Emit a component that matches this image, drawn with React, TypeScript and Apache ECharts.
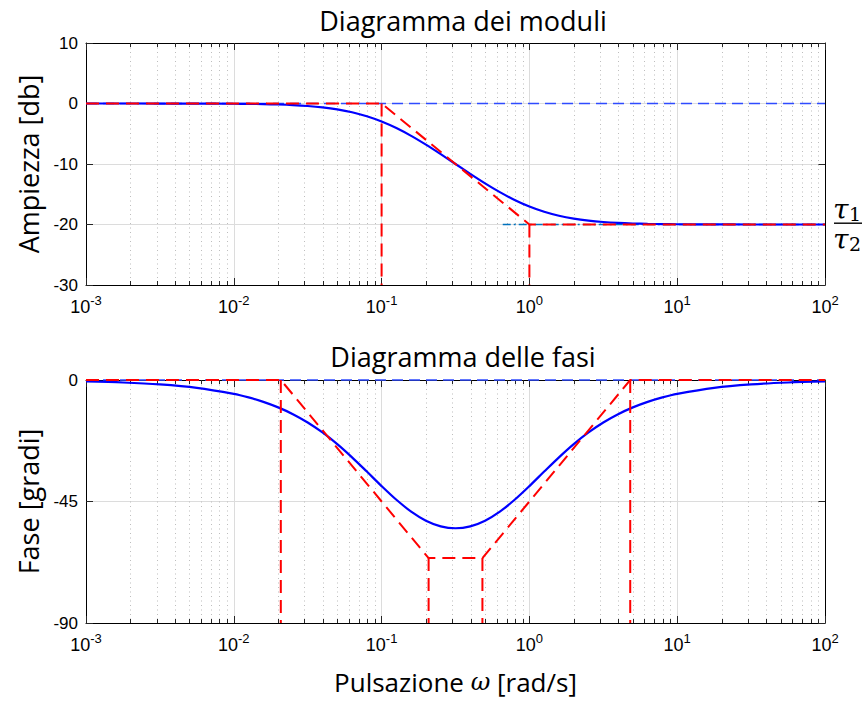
import React, { useEffect, useRef } from "react";
import * as echarts from "echarts";

// ---- data ----
const omega = [0.001, 0.001778, 0.003162, 0.005623, 0.01, 0.01259, 0.01585, 0.01995, 0.02512, 0.03162, 0.03981, 0.05012, 0.0631, 0.07943, 0.1, 0.1259, 0.1585, 0.1995, 0.2512, 0.3162, 0.3981, 0.5012, 0.631, 0.7943, 1, 1.259, 1.585, 1.995, 2.512, 3.162, 3.981, 5.012, 6.31, 7.943, 10, 17.78, 31.62, 56.23, 100];
const magDb = [-0.0004, -0.0014, -0.0043, -0.0136, -0.043, -0.068, -0.107, -0.168, -0.263, -0.41, -0.632, -0.962, -1.438, -2.097, -2.967, -4.056, -5.348, -6.804, -8.373, -10.0, -11.627, -13.196, -14.652, -15.944, -17.033, -17.903, -18.562, -19.038, -19.368, -19.59, -19.737, -19.832, -19.893, -19.932, -19.957, -19.986, -19.996, -19.999, -20.0];
const phaseDeg = [-0.516, -0.917, -1.63, -2.896, -5.138, -6.454, -8.098, -10.141, -12.661, -15.737, -19.428, -23.751, -28.64, -33.919, -39.289, -44.364, -48.744, -52.096, -54.192, -54.903, -54.192, -52.096, -48.744, -44.364, -39.289, -33.919, -28.64, -23.751, -19.428, -15.737, -12.661, -10.141, -8.098, -6.454, -5.138, -2.896, -1.63, -0.917, -0.516];

const magAsymW = [0.001, 0.1, 1, 100];
const magAsymDb = [0, 0, -20, -20];
const magVertW = [0.1, 1];
const magVertTop = [0, -20];
const magZeroRefW = [0.001, 100];
const magRatioRefW = [0.66, 100];
const magRatioDb = -20;

const phaseAsymW = [0.001, 0.0208, 0.208, 0.481, 4.81, 100];
const phaseAsymDeg = [0, 0, -65.97, -65.97, 0, 0];
const phaseVertW = [0.0208, 0.208, 0.481, 4.81];
const phaseVertTop = [0, -65.97, -65.97, 0];
const phaseZeroRefW = [0.001, 100];

const xMin = 0.001;
const xMax = 100;
const magMin = -30, magMax = 10, magStep = 10;
const phMin = -90, phMax = 0, phStep = 45;
const minorTicks: number[] = [];
for (let e = -3; e < 2; e++) for (let k = 2; k <= 9; k++) minorTicks.push(k * Math.pow(10, e));

const FONT_TICK = "'Liberation Sans', Arial, sans-serif";
const FONT_LBL = "'Open Sans', Lato, sans-serif";

const zip = (xs: number[], ys: number[]) => xs.map((x, i) => [x, ys[i]]);

export default function App() {
  const ref = useRef<HTMLDivElement>(null);
  useEffect(() => {
    if (!ref.current) return;
    const chart = echarts.init(ref.current, null, { renderer: "svg" });

    const tickLabel = {
      formatter: (v: number) => `{b|10}{s|${Math.round(Math.log10(v))}}`,
      margin: 9,
      rich: {
        b: { fontFamily: FONT_TICK, fontSize: 18, color: "#000", lineHeight: 22, verticalAlign: "bottom" },
        s: { fontFamily: FONT_TICK, fontSize: 13, color: "#000", lineHeight: 22, verticalAlign: "top" },
      },
    };
    const axisLine = { show: true, onZero: false, lineStyle: { color: "#000", width: 1 } };
    const majorSplit = { show: true, lineStyle: { color: "#dcdcdc", width: 1 } };
    const tick = { show: true, inside: true, length: 7, lineStyle: { color: "#262626" } };
    const xBottom = (gi: number, extra: any = {}) => ({
      type: "log", logBase: 10, min: xMin, max: xMax, splitNumber: 5, gridIndex: gi, position: "bottom",
      axisLine, axisTick: tick, axisLabel: tickLabel, splitLine: majorSplit, ...extra,
    });
    const xTop = (gi: number) => ({
      type: "log", logBase: 10, min: xMin, max: xMax, splitNumber: 5, gridIndex: gi, position: "top",
      axisLine, axisTick: tick, axisLabel: { show: false }, splitLine: { show: false },
    });
    const yLeft = (gi: number, min: number, max: number, step: number, name: string) => ({
      type: "value", gridIndex: gi, min, max, interval: step, position: "left",
      axisLine, axisTick: tick,
      axisLabel: { fontFamily: FONT_TICK, fontSize: 17, color: "#000", margin: 8 },
      splitLine: majorSplit,
      name, nameLocation: "middle", nameGap: 44, nameRotate: 90,
      nameTextStyle: { fontFamily: FONT_LBL, fontSize: 27, color: "#000" },
    });
    const yRight = (gi: number, min: number, max: number, step: number) => ({
      type: "value", gridIndex: gi, min, max, interval: step, position: "right",
      axisLine, axisTick: tick, axisLabel: { show: false }, splitLine: { show: false },
    });

    const minorSeries = (xi: number, yi: number, yv: number) => ({
      type: "custom", xAxisIndex: xi, yAxisIndex: yi, z: 1, silent: true, clip: false,
      data: minorTicks.map((v) => [v, yv]),
      renderItem: (params: any, api: any) => {
        const x = Math.round(api.coord([api.value(0), api.value(1)])[0]) + 0.5;
        const cs = params.coordSys;
        const top = cs.y, bot = cs.y + cs.height;
        return {
          type: "group",
          children: [
            { type: "line", shape: { x1: x, y1: top, x2: x, y2: bot }, style: { stroke: "#bdbdbd", lineWidth: 1, lineDash: [1, 3.5] } },
            { type: "line", shape: { x1: x, y1: bot, x2: x, y2: bot - 4 }, style: { stroke: "#262626", lineWidth: 1 } },
            { type: "line", shape: { x1: x, y1: top, x2: x, y2: top + 4 }, style: { stroke: "#262626", lineWidth: 1 } },
          ],
        };
      },
    });

    const line = (xi: number, yi: number, data: number[][], color: string, width: number, type: any, z: number) => ({
      type: "line", xAxisIndex: xi, yAxisIndex: yi, data, symbol: "none", showSymbol: false, silent: true, z,
      lineStyle: { color, width, type }, clip: false,
    });
    const curve = (xi: number, yi: number, data: number[][]) => ({
      ...line(xi, yi, data, "#0000ff", 2.2, "solid", 4), smooth: 0.3,
    });

    const RED = "#ff0000";
    const DASH = [13, 7];
    const RW = 2;
    const series: any[] = [
      minorSeries(0, 0, magMin),
      line(0, 0, zip(magZeroRefW, magZeroRefW.map(() => 0)), "#2f4bff", 1.4, [11, 6], 3),
      line(0, 0, zip(magRatioRefW, magRatioRefW.map(() => magRatioDb)), "#0072bd", 1.5, [8, 3, 2, 3], 3),
      curve(0, 0, zip(omega, magDb)),
      line(0, 0, zip(magAsymW, magAsymDb), RED, RW, DASH, 5),
      ...magVertW.map((w, i) => line(0, 0, [[w, magVertTop[i]], [w, magMin]], RED, RW, DASH, 5)),

      minorSeries(2, 2, phMin),
      line(2, 2, zip(phaseZeroRefW, phaseZeroRefW.map(() => 0)), "#2f4bff", 1.4, [11, 6], 3),
      curve(2, 2, zip(omega, phaseDeg)),
      line(2, 2, zip(phaseAsymW, phaseAsymDeg), RED, RW, DASH, 5),
      ...phaseVertW.map((w, i) => line(2, 2, [[w, phaseVertTop[i]], [w, phMin]], RED, RW, DASH, 5)),
    ];

    const titleStyle = { fontFamily: FONT_LBL, fontSize: 27, fontWeight: "normal", color: "#000" };
    chart.setOption({
      animation: false,
      backgroundColor: "#fff",
      title: [
        { text: "Diagramma dei moduli", left: 458, top: 2, textAlign: "center", textStyle: titleStyle },
        { text: "Diagramma delle fasi", left: 458, top: 338, textAlign: "center", textStyle: titleStyle },
      ],
      grid: [
        { left: 86, top: 43, width: 739, height: 242, containLabel: false },
        { left: 86, top: 380, width: 739, height: 243, containLabel: false },
      ],
      xAxis: [
        xBottom(0),
        xTop(0),
        xBottom(1, {
          name: "Pulsazione {i|ω} [rad/s]", nameLocation: "middle", nameGap: 46,
          nameTextStyle: {
            fontFamily: FONT_LBL, fontSize: 26, color: "#000",
            rich: { i: { fontFamily: "'DejaVu Serif', serif", fontStyle: "italic", fontSize: 24, color: "#000" } },
          },
        }),
        xTop(1),
      ],
      yAxis: [
        yLeft(0, magMin, magMax, magStep, "Ampiezza [db]"),
        yRight(0, magMin, magMax, magStep),
        yLeft(1, phMin, phMax, phStep, "Fase [gradi]"),
        yRight(1, phMin, phMax, phStep),
      ],
      graphic: [
        { type: "text", x: 833, y: 195, style: { text: "τ", font: "italic 28px 'DejaVu Serif', serif", fill: "#000" } },
        { type: "text", x: 849, y: 204, style: { text: "1", font: "19px 'DejaVu Serif', serif", fill: "#000" } },
        { type: "rect", shape: { x: 834, y: 222.5, width: 28, height: 1.4 }, style: { fill: "#000" } },
        { type: "text", x: 833, y: 225, style: { text: "τ", font: "italic 28px 'DejaVu Serif', serif", fill: "#000" } },
        { type: "text", x: 849, y: 234, style: { text: "2", font: "19px 'DejaVu Serif', serif", fill: "#000" } },
      ],
      series,
    });
    return () => chart.dispose();
  }, []);
  return <div ref={ref} style={{ width: 864, height: 702, position: "absolute", left: 0, top: 0 }} />;
}
